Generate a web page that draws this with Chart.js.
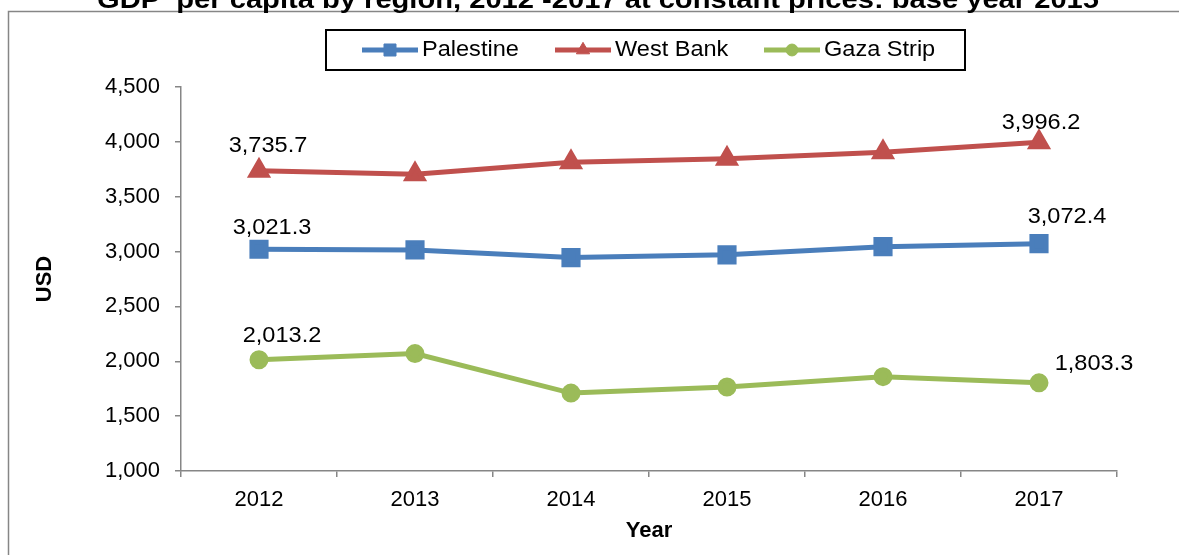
<!DOCTYPE html>
<html>
<head>
<meta charset="utf-8">
<script src="https://cdn.jsdelivr.net/npm/chart.js@4.4.1/dist/chart.umd.min.js"></script>
<style>
  html, body { margin: 0; padding: 0; background: #fff; }
  #wrap { position: relative; width: 1179px; height: 555px; overflow: hidden; }
</style>
</head>
<body>
<div id="wrap"><canvas id="c"></canvas></div>
<script>
// GDP per capita by region, constant prices (USD)
const YEARS = ['2012', '2013', '2014', '2015', '2016', '2017'];
const PALESTINE = [3021.3, 3015, 2945, 2970, 3045, 3072.4];
const WEST_BANK = [3735.7, 3705, 3815, 3845, 3905, 3996.2];
const GAZA = [2013.2, 2070, 1710, 1765, 1860, 1803.3];
const Y_MIN = 1000, Y_MAX = 4500, Y_STEP = 500;
const TITLE = 'GDP  per capita by region, 2012 -2017 at constant prices: base year 2015';

const COL = { blu: '#4a7ebb', red: '#c0504d', grn: '#9bbb59', axis: '#868686' };
const FONT = '"Liberation Sans", Arial, sans-serif';
Chart.defaults.font.family = FONT;
Chart.defaults.font.size = 22;
Chart.defaults.color = '#000';

const fmt = v => v.toLocaleString('en-US', { minimumFractionDigits: 1, maximumFractionDigits: 1 });

// offsets of the first / last value labels from their points
const LABEL_OFF = [
  [[13, -21], [28, -27]],
  [[9, -25], [2, -19]],
  [[23, -24], [55, -19]],
];

// the source font runs a bit wider than Liberation Sans
function wideText(ctx, text, x, y, sx) {
  ctx.save();
  ctx.translate(x, y);
  ctx.scale(sx, 1);
  ctx.fillText(text, 0, 0);
  ctx.restore();
}

const frameAndTitle = {
  id: 'frameAndTitle',
  beforeDraw(chart) {
    const ctx = chart.ctx;
    ctx.save();
    ctx.strokeStyle = COL.axis;
    ctx.lineWidth = 1.5;
    ctx.strokeRect(8.5, 11.5, 1400, 700);
    ctx.fillStyle = '#000';
    ctx.font = 'bold 25px ' + FONT;
    ctx.textAlign = 'center';
    ctx.textBaseline = 'alphabetic';
    const w = ctx.measureText(TITLE).width;
    wideText(ctx, TITLE, 598, 8, 1002 / w);
    ctx.restore();
  }
};

const endLabels = {
  id: 'endLabels',
  afterDatasetsDraw(chart) {
    const ctx = chart.ctx;
    ctx.save();
    ctx.font = '22px ' + FONT;
    ctx.fillStyle = '#000';
    ctx.textAlign = 'center';
    ctx.textBaseline = 'middle';
    chart.data.datasets.forEach((ds, i) => {
      const pts = chart.getDatasetMeta(i).data;
      const last = pts.length - 1;
      [[0, 0], [last, 1]].forEach(([idx, k]) => {
        const [dx, dy] = LABEL_OFF[i][k];
        wideText(ctx, fmt(ds.data[idx]), pts[idx].x + dx, pts[idx].y + dy, 1.07);
      });
    });
    ctx.restore();
  }
};

const boxLegend = {
  id: 'boxLegend',
  afterDraw(chart) {
    const ctx = chart.ctx;
    ctx.save();
    ctx.strokeStyle = '#000';
    ctx.lineWidth = 2;
    ctx.strokeRect(326, 30, 639, 40);
    const starts = [362, 555, 764];
    ctx.font = '22px ' + FONT;
    ctx.textBaseline = 'middle';
    ctx.textAlign = 'left';
    chart.data.datasets.forEach((ds, i) => {
      const x0 = starts[i], y = 50;
      ctx.strokeStyle = ds.borderColor;
      ctx.fillStyle = ds.borderColor;
      ctx.lineWidth = 5;
      ctx.beginPath(); ctx.moveTo(x0, y); ctx.lineTo(x0 + 56, y); ctx.stroke();
      ctx.lineWidth = 1;
      Chart.helpers.drawPoint(ctx, {
        pointStyle: ds.pointStyle, radius: ds.pointRadius * 0.85, borderWidth: 1
      }, x0 + 28, y);
      ctx.fillStyle = '#000';
      wideText(ctx, ds.label, x0 + 60, y, 1.07);
    });
    ctx.restore();
  }
};

function series(label, data, color, style, r) {
  return {
    label, data, borderColor: color, backgroundColor: color,
    borderWidth: 5, pointStyle: style, pointRadius: r, pointHoverRadius: r,
    pointBorderColor: color, pointBackgroundColor: color, tension: 0,
  };
}

new Chart(document.getElementById('c'), {
  type: 'line',
  data: {
    labels: YEARS,
    datasets: [
      series('Palestine', PALESTINE, COL.blu, 'rect', 10),
      series('West Bank', WEST_BANK, COL.red, 'triangle', 9),
      series('Gaza Strip', GAZA, COL.grn, 'circle', 7),
    ],
  },
  options: {
    responsive: true,
    maintainAspectRatio: false,
    animation: false,
    layout: { padding: { top: 87, right: 62, bottom: 0, left: 0 } },
    plugins: { legend: { display: false }, tooltip: { enabled: false } },
    scales: {
      x: {
        offset: true,
        afterFit: s => { s.height = 84; },
        grid: { offset: true, drawOnChartArea: false, tickLength: 6, color: COL.axis, lineWidth: 1.5 },
        border: { color: COL.axis, width: 1.5 },
        ticks: { padding: 10, font: { size: 22 } },
        title: { display: true, text: 'Year', font: { size: 22, weight: 'bold' }, padding: { top: 0, bottom: 11 } },
      },
      y: {
        min: Y_MIN, max: Y_MAX,
        afterFit: s => { s.width = 181; },
        grid: { drawOnChartArea: false, tickLength: 6, color: COL.axis, lineWidth: 1.5 },
        border: { color: COL.axis, width: 1.5 },
        ticks: { stepSize: Y_STEP, padding: 15, font: { size: 22 },
                 callback: v => v.toLocaleString('en-US') },
        title: { display: true, text: 'USD', font: { size: 22, weight: 'bold' }, padding: { top: 32, bottom: 0 } },
      },
    },
  },
  plugins: [frameAndTitle, endLabels, boxLegend],
});
</script>
</body>
</html>
